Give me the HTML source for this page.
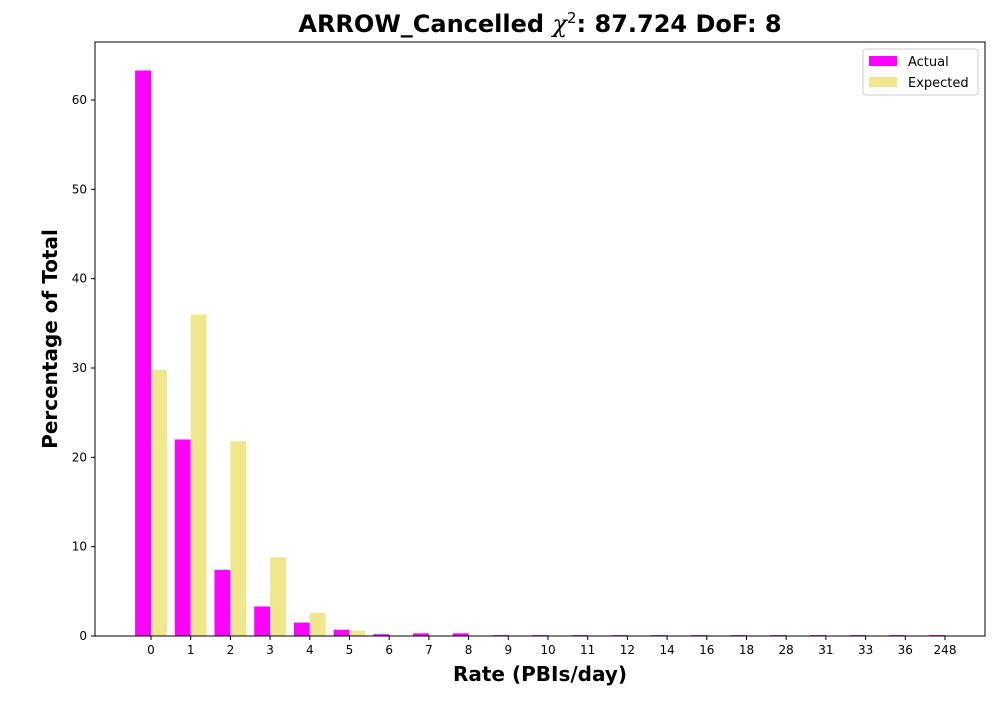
<!DOCTYPE html>
<html><head><meta charset="utf-8"><style>
body{margin:0;background:#fff;font-family:"Liberation Sans","DejaVu Sans",sans-serif}
</style></head><body>
<svg id="c" width="1000" height="700" xmlns="http://www.w3.org/2000/svg" font-family="DejaVu Sans, Liberation Sans, sans-serif"></svg>
<script>
const categories=["0","1","2","3","4","5","6","7","8","9","10","11","12","14","16","18","28","31","33","36","248"];
const actualValues=[63.3,22.0,7.4,3.3,1.5,0.7,0.2,0.3,0.3,0.1,0.1,0.1,0.1,0.1,0.1,0.1,0.1,0.1,0.1,0.1,0.1];
const expectedValues=[29.8,36.0,21.8,8.8,2.6,0.6,0.05,0.01,0,0,0,0,0,0,0,0,0,0,0,0,0];
const yTicks=[0,10,20,30,40,50,60];
const svg=document.getElementById('c');
const NS='http://www.w3.org/2000/svg';
const L=95,R=985,T=42,B=636;
const x0=151,step=(945-151)/(categories.length-1);
const xs=i=>x0+i*step;
const ys=v=>B-v*(536/60);
const bw=step*0.4;
function mk(tag,attrs,txt){const e=document.createElementNS(NS,tag);for(const k in attrs)e.setAttribute(k,attrs[k]);if(txt!==undefined)e.textContent=txt;svg.appendChild(e);return e;}
categories.forEach((c,i)=>{
 const a=mk('rect',{x:xs(i)-bw,y:ys(actualValues[i]),width:bw,height:B-ys(actualValues[i]),fill:'#ff00ff'});
 
 
 const e=mk('rect',{x:xs(i),y:ys(expectedValues[i]),width:bw,height:B-ys(expectedValues[i]),fill:'#f0e68c'});
 
 
 const t=mk('line',{x1:xs(i),x2:xs(i),y1:B,y2:B+4,stroke:'#000'});
 
 
 const l=mk('text',{x:xs(i),y:B+18,'text-anchor':'middle','font-size':12},c);
 
 
});
yTicks.forEach(v=>{
 const t=mk('line',{x1:L-4,x2:L,y1:ys(v),y2:ys(v),stroke:'#000'});
 
 
 const l=mk('text',{x:L-8,y:ys(v)+4,'text-anchor':'end','font-size':12},v);
 
 
});
const f=mk('rect',{x:L,y:T,width:R-L,height:B-T,fill:'none',stroke:'#000','stroke-width':1});


const tt=mk('text',{x:540,y:32,'text-anchor':'middle','font-size':24,'font-weight':'bold'});
tt.innerHTML='ARROW_Cancelled <tspan font-style="italic" font-weight="normal" font-family="DejaVu Serif, serif">χ</tspan><tspan font-size="15" font-weight="normal" dy="-9">2</tspan><tspan dy="9">: 87.724 DoF: 8</tspan>';


const xt=mk('text',{x:540,y:681,'text-anchor':'middle','font-size':20,'font-weight':'bold'},'Rate (PBIs/day)');


const yt=mk('text',{x:0,y:0,'text-anchor':'middle','font-size':20,'font-weight':'bold',transform:'translate(57,339) rotate(-90)'},'Percentage of Total');


const lg=mk('rect',{x:863,y:49,width:115,height:46,rx:3,fill:'#fff',stroke:'#ccc'});


const s1=mk('rect',{x:869,y:56,width:28,height:10,fill:'#ff00ff'});


const l1=mk('text',{x:908,y:66,'font-size':13},'Actual');


const s2=mk('rect',{x:869,y:77,width:28,height:10,fill:'#f0e68c'});


const l2=mk('text',{x:908,y:87,'font-size':13},'Expected');


</script>
</body></html>
